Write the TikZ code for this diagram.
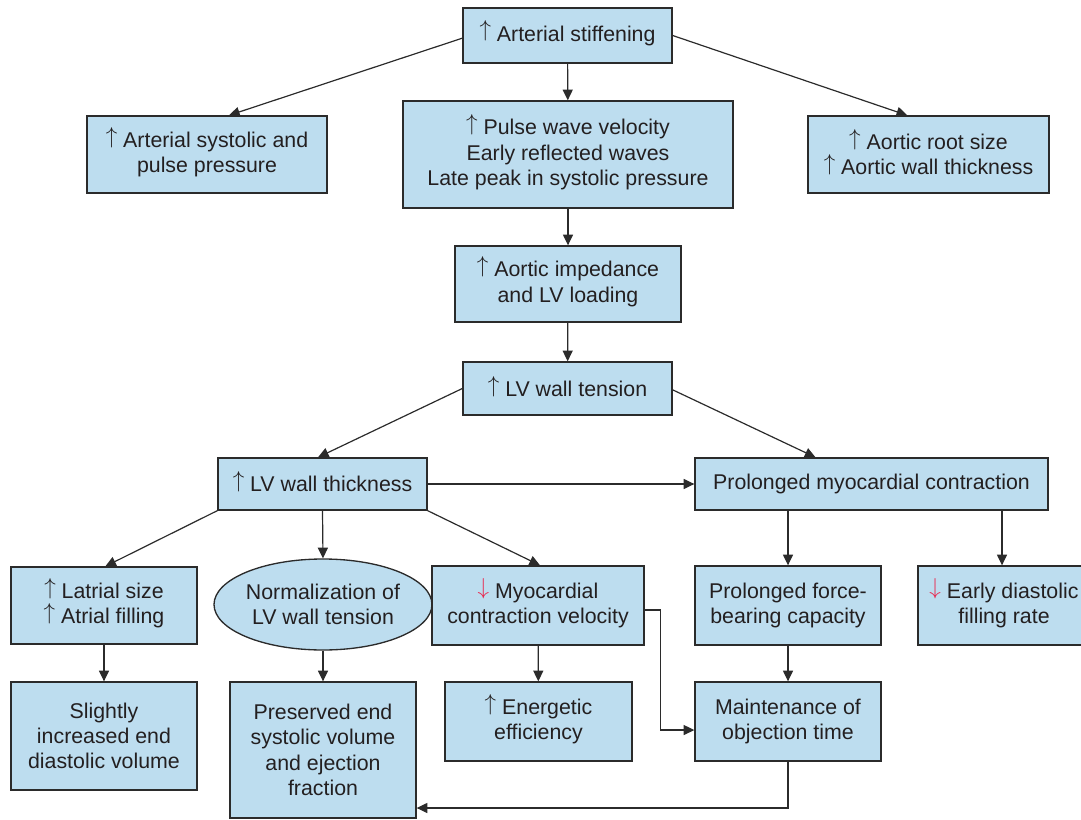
\documentclass[tikz,border=0pt]{standalone}
\usepackage{fontspec}
\setmainfont{Liberation Sans}
\usetikzlibrary{arrows.meta,shapes.geometric}
\definecolor{boxfill}{HTML}{BDDDEF}
\definecolor{edge}{HTML}{2B2B2B}
\definecolor{txt}{HTML}{231F20}
\definecolor{redarrow}{HTML}{E8284F}
\newcommand{\upa}{\smash{\raisebox{0.19em}{$\uparrow$}}}
\newcommand{\dna}{\textcolor{redarrow}{\smash{\raisebox{0.19em}{$\downarrow$}}}}
\tikzset{
  bx/.style={draw=edge, fill=boxfill, line width=1pt, inner sep=0pt, align=center,
    font=\fontsize{16}{19}\selectfont, text=txt},
  sz/.style 2 args={minimum width=#1*0.75pt, minimum height=#2*0.75pt},
  arr/.style={line width=0.9pt, draw=edge, -{Triangle[length=8pt,width=7.5pt]}}
}
\begin{document}
\begin{tikzpicture}[x=0.75pt,y=-0.75pt]
\useasboundingbox (0,0) rectangle (1081,820);
\clip (0,0) rectangle (1081,820);
\node[bx,sz={209}{55}] (n1) at (567.5,35.5) {\upa\ Arterial stiffening};
\node[bx,sz={240}{77}] (n2) at (207,154.5) {\upa\ Arterial systolic and\\pulse pressure};
\node[bx,sz={330}{107}] (n3) at (568,154.5) {\upa\ Pulse wave velocity\\Early reflected waves\\Late peak in systolic pressure};
\node[bx,sz={241}{77}] (n4) at (928.5,154.5) {\upa\ Aortic root size\\\upa\ Aortic wall thickness};
\node[bx,sz={226}{76}] (n5) at (568,284) {\upa\ Aortic impedance\\and LV loading};
\node[bx,sz={209}{53}] (n6) at (567.5,388.5) {\upa\ LV wall tension};
\node[bx,sz={209}{52}] (n7) at (322.5,484) {\upa\ LV wall thickness};
\node[bx,sz={353}{52}] (n8) at (871.5,484) {Prolonged myocardial contraction};
\node[bx,sz={186}{77}] (n9) at (104,605.5) {\upa\ Latrial size\\\upa\ Atrial filling};
\node[bx,ellipse,sz={194}{91}] (n10) at (323,604.5) {Normalization of\\LV wall tension};
\node[bx,sz={212}{79}] (n11) at (538,605.5) {\dna\ Myocardial\\contraction velocity};
\node[bx,sz={186}{79}] (n12) at (788,605.5) {Prolonged force-\\bearing capacity};
\node[bx,sz={172}{79}] (n13) at (1004,605.5) {\dna\ Early diastolic\\filling rate};
\node[bx,sz={186}{108}] (n14) at (104,736) {Slightly\\increased end\\diastolic volume};
\node[bx,sz={186}{136}] (n15) at (323,750) {Preserved end\\systolic volume\\and ejection\\fraction};
\node[bx,sz={187}{79}] (n16) at (538.5,721.5) {\upa\ Energetic\\efficiency};
\node[bx,sz={186}{79}] (n17) at (788,721.5) {Maintenance of\\objection time};

\draw[arr] (n1) -- (n3);
\draw[arr] ([yshift=-2pt]n1.west) -- ([xshift=16.5pt]n2.north);
\draw[arr] (n1.east) -- ([xshift=-16pt]n4.north);
\draw[arr] (n3) -- (n5);
\draw[arr] (n5) -- (n6);
\draw[arr] (n6.west) -- ([xshift=-3.4pt]n7.north);
\draw[arr] ([yshift=-1pt]n6.east) -- ([xshift=-42pt]n8.north);
\draw[arr] (n7.east) -- (n8.west);
\draw[arr] (n7.south west) -- ([xshift=1pt]n9.north);
\draw[arr] (n7.south) -- (n10.north);
\draw[arr] (n7.south east) -- ([xshift=1.5pt]n11.north);
\draw[arr] (n12.north |- n8.south) -- (n12.north);
\draw[arr] ([xshift=-1.5pt]n13.north |- n8.south) -- ([xshift=-1.5pt]n13.north);
\draw[arr] (n9) -- (n14);
\draw[arr] (n10) -- (n15);
\draw[arr] (n11) -- (n16);
\draw[arr] (n12) -- (n17);
\draw[arr] ([yshift=-3.4pt]n11.east) -- ++(16,0) |- ([yshift=-6.4pt]n17.west);
\draw[arr] (n17.south) |- ([yshift=-43.5pt]n15.east);
\end{tikzpicture}
\end{document}
